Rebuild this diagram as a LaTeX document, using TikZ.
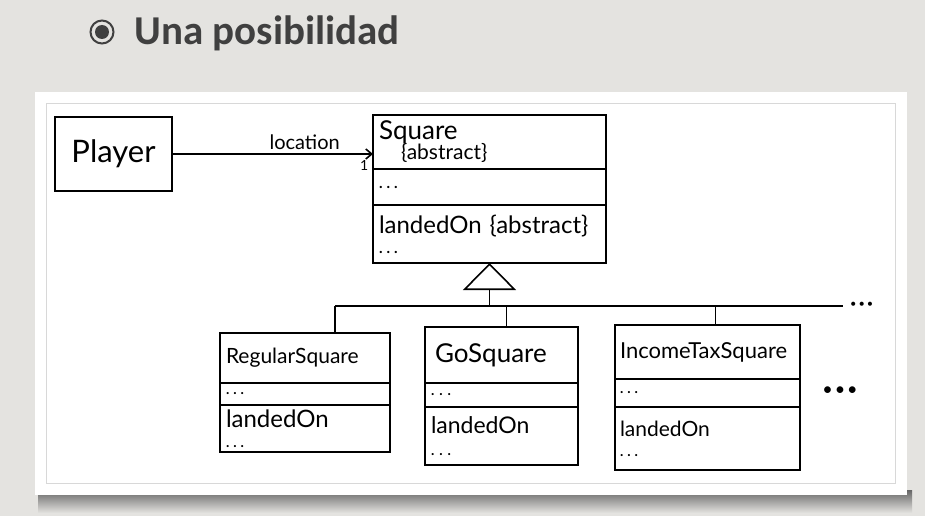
\documentclass[tikz,border=0pt]{standalone}
\usepackage{fontspec}
\setmainfont{Carlito}
\newfontfamily\hand{Lato}
\usetikzlibrary{calc}
\usetikzlibrary{arrows.meta}
\usetikzlibrary{positioning}
\definecolor{slidebg}{HTML}{E4E3E0}
\definecolor{titlegray}{HTML}{404040}
\definecolor{framegray}{HTML}{D8D8D8}
\newcommand{\handdots}[1][4pt]{\textbf{.\hspace{#1}.\hspace{#1}.}}
\newcommand{\bigdots}[1][3pt]{\textbullet\hspace{#1}\textbullet\hspace{#1}\textbullet}

\begin{document}
\begin{tikzpicture}[x=1pt, y=-1pt]
            \tikzstyle{compart} = [draw, line width=1.6pt, anchor=north west, outer sep=0pt, inner xsep=6pt, inner ysep=1pt, align=left, font=\hand]
            \tikzstyle{assoc} = [line width=1.6pt, -{Straight Barb[length=6pt, width=10pt]}]
            \tikzstyle{inherit} = [line width=1.6pt, -{Triangle[open, length=27pt, width=53pt]}]
            \tikzstyle{bus} = [line width=1.6pt]
            \useasboundingbox (0, 0) rectangle (925, 516);
            % slide and panel
            \fill[slidebg] (0, 0) rectangle (925, 516);
            \shade[top color=black!60, bottom color=slidebg] (38, 490) rectangle (912, 513);
            \fill[white] (35, 92) rectangle (907, 495);
            \draw[framegray, line width=1pt] (46, 104) rectangle (895, 483);
            % title
            \node[circle, draw=titlegray, line width=2pt, minimum size=23pt, inner sep=0pt] (bullet) at (102, 32) {};
            \fill[titlegray] (bullet.center) circle (7pt);
            \node[anchor=base west, text=titlegray, font=\bfseries\fontsize{41}{44}\selectfont] (title) at (131, 45) {Una posibilidad};
            % classes
            \node[compart, align=center, minimum width=117pt, minimum height=74pt, font=\hand\fontsize{31}{32}\selectfont] (pl) at (55, 117) {Player};
            \node[compart, text width=221pt, minimum height=54pt, font=\hand\fontsize{26}{24}\selectfont] (sq) at (373, 115)
                {Square\\[-4pt]\hspace*{22pt}{\fontsize{21}{20}\selectfont\{abstract\}}};
            \node[compart, text width=221pt, minimum height=36pt, font=\hand\fontsize{15}{15}\selectfont] (sq-attr) at (sq.south west) {\handdots};
            \node[compart, text width=221pt, minimum height=58pt, font=\hand\fontsize{24}{20}\selectfont] (sq-op) at (sq-attr.south west)
                {landedOn \{abstract\}\\{\fontsize{15}{14}\selectfont\handdots}};
            \node[compart, text width=158pt, minimum height=50pt, font=\hand\fontsize{21}{22}\selectfont] (rs) at (220, 333) {RegularSquare};
            \node[compart, text width=158pt, minimum height=22pt, font=\hand\fontsize{14}{14}\selectfont] (rs-attr) at (rs.south west) {\handdots};
            \node[compart, text width=158pt, minimum height=47pt, font=\hand\fontsize{24}{20}\selectfont] (rs-op) at (rs-attr.south west)
                {landedOn\\{\fontsize{14}{14}\selectfont\handdots}};
            \node[compart, inner xsep=10pt, text width=133pt, minimum height=56pt, font=\hand\fontsize{26}{26}\selectfont] (gs) at (425, 327) {GoSquare};
            \node[compart, text width=141pt, minimum height=24pt, font=\hand\fontsize{14}{14}\selectfont] (gs-attr) at (gs.south west) {\handdots[5pt]};
            \node[compart, text width=141pt, minimum height=58pt, font=\hand\fontsize{23}{22}\selectfont] (gs-op) at (gs-attr.south west)
                {landedOn\\{\fontsize{14}{14}\selectfont\handdots[5pt]}};
            \node[compart, inner xsep=5pt, text width=175pt, minimum height=54pt, font=\hand\fontsize{22}{22}\selectfont] (its) at (615, 325) {IncomeTaxSquare};
            \node[compart, inner xsep=5pt, text width=175pt, minimum height=28pt, font=\hand\fontsize{14}{14}\selectfont] (its-attr) at (its.south west) {\handdots};
            \node[compart, inner xsep=5pt, text width=175pt, minimum height=63pt, font=\hand\fontsize{21}{20}\selectfont] (its-op) at (its-attr.south west)
                {landedOn\\{\fontsize{14}{14}\selectfont\handdots}};
            % association
            \draw[assoc] (pl.east) -- (pl.east -| sq.west)
                node[above, pos=0.66, font=\hand\fontsize{20}{20}\selectfont] (loc) {location}
                node[below left, pos=1, inner xsep=4pt, inner ysep=6pt, font=\hand\fontsize{14}{14}\selectfont] (mult) {1};
            % generalization
            \coordinate (busL) at (335, 306);
            \coordinate (busR) at (843, 306);
            \draw[bus] (busL) -- (busR);
            \draw[inherit] (sq-op.south |- busL) -- (sq-op.south);
            \draw[bus] (busL) -- (busL |- rs.north);
            \draw[bus] ([xshift=5pt]gs.north) -- ([xshift=5pt]gs.north |- busL);
            \draw[bus] ([xshift=8pt]its.north) -- ([xshift=8pt]its.north |- busL);
            \node[right, inner sep=7pt, yshift=1pt, font=\hand\fontsize{11}{11}\selectfont] (more) at (busR) {\bigdots[2pt]};
            \node[font=\hand\fontsize{18}{18}\selectfont] (others) at (840, 391) {\bigdots[2pt]};
        \end{tikzpicture}
\end{document}
